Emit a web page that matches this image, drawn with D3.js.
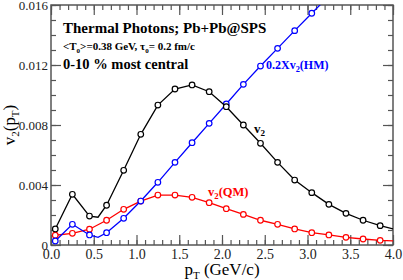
<!DOCTYPE html>
<html>
<head>
<meta charset="utf-8">
<script src="https://cdn.jsdelivr.net/npm/d3@7"></script>
<style>
  body { margin: 0; background: #fff; }
  svg text { font-family: "Liberation Serif", "Times New Roman", Times, "DejaVu Serif", serif; }
</style>
</head>
<body>
<div id="chart"></div>
<script>
// pT values of the computed points (GeV/c)
var ptBlack = [0.05, 0.25, 0.45, 0.55, 0.65, 0.85, 1.05, 1.25, 1.45, 1.65, 1.85, 2.05, 2.25, 2.45, 2.65, 2.85, 3.05, 3.25, 3.45, 3.65, 3.85, 4.0];
var v2 = [0.00107, 0.00338, 0.00193, 0.00185, 0.00265, 0.00498, 0.00738, 0.00933, 0.0104, 0.01067, 0.01022, 0.00922, 0.0080, 0.00678, 0.00551, 0.00433, 0.00349, 0.00271, 0.00211, 0.00165, 0.00129, 0.00107];
var markBlack = [1, 1, 1, 0, 1, 1, 1, 1, 1, 1, 1, 1, 1, 1, 1, 1, 1, 1, 1, 1, 1, 0];

var ptRed = [0.05, 0.25, 0.45, 0.65, 0.85, 1.05, 1.25, 1.45, 1.65, 1.85, 2.05, 2.25, 2.45, 2.65, 2.85, 3.05, 3.25, 3.45, 3.65, 3.85, 4.0];
var v2QM = [0.00065, 0.00078, 0.00105, 0.00165, 0.00238, 0.00293, 0.00333, 0.00333, 0.00318, 0.00282, 0.00242, 0.00204, 0.00165, 0.00138, 0.00107, 0.00082, 0.00067, 0.00051, 0.0004, 0.00031, 0.00027];
var markRed = [1, 1, 1, 1, 1, 1, 1, 1, 1, 1, 1, 1, 1, 1, 1, 1, 1, 1, 1, 1, 0];

var ptBlue = [0.05, 0.25, 0.45, 0.55, 0.65, 0.85, 1.05, 1.25, 1.45, 1.65, 1.85, 2.05, 2.25, 2.45, 2.65, 2.85, 3.05, 3.25];
var v2HM = [0.00027, 0.00138, 0.00067, 0.00051, 0.00082, 0.00178, 0.00293, 0.00418, 0.00551, 0.00682, 0.00811, 0.0094, 0.01071, 0.01193, 0.01311, 0.01429, 0.01545, 0.0166];
var markBlue = [1, 1, 1, 0, 1, 1, 1, 1, 1, 1, 1, 1, 1, 1, 1, 1, 1, 1];

var xTicks = [0, 0.5, 1.0, 1.5, 2.0, 2.5, 3.0, 3.5, 4.0];
var yTicks = [0, 0.004, 0.008, 0.012, 0.016];

var W = 403, H = 280;
var m = { left: 51, right: 10, top: 5, bottom: 35 };
var FONT = '"Liberation Serif", "Times New Roman", Times, serif';

var svg = d3.select('#chart').append('svg')
  .attr('width', W).attr('height', H)
  .attr('font-family', FONT);

var x = d3.scaleLinear().domain([0, 4]).range([m.left, W - m.right]);
var y = d3.scaleLinear().domain([0, 0.016]).range([H - m.bottom, m.top]);

svg.append('defs').append('clipPath').attr('id', 'clip')
  .append('rect')
  .attr('x', x(0)).attr('y', y(0.016))
  .attr('width', x(4) - x(0)).attr('height', y(0) - y(0.016));

// axes, ticks inside
var minorX = d3.range(0, 4.001, 0.1);
var minorY = d3.range(0, 0.01601, 0.001);

function drawAxis(g, axis) {
  g.call(axis);
  g.attr('font-family', FONT);
  g.select('.domain').remove();
  g.selectAll('line').attr('stroke', '#555').attr('stroke-width', 1.2);
}

var gx = svg.append('g').attr('transform', 'translate(0,' + y(0) + ')');
drawAxis(gx, d3.axisBottom(x).tickValues(minorX).tickSize(-5).tickFormat(''));
var gx2 = svg.append('g').attr('transform', 'translate(0,' + y(0) + ')');
drawAxis(gx2, d3.axisBottom(x).tickValues(xTicks).tickSize(-10).tickPadding(4).tickFormat(d3.format('.1f')));
gx2.selectAll('text').attr('font-size', 14).attr('fill', '#222');

var gt = svg.append('g').attr('transform', 'translate(0,' + y(0.016) + ')');
drawAxis(gt, d3.axisTop(x).tickValues(minorX).tickSize(-5).tickFormat(''));
var gt2 = svg.append('g').attr('transform', 'translate(0,' + y(0.016) + ')');
drawAxis(gt2, d3.axisTop(x).tickValues(xTicks).tickSize(-10).tickFormat(''));

var gy = svg.append('g').attr('transform', 'translate(' + x(0) + ',0)');
drawAxis(gy, d3.axisLeft(y).tickValues(minorY).tickSize(-5).tickFormat(''));
var gy2 = svg.append('g').attr('transform', 'translate(' + x(0) + ',0)');
drawAxis(gy2, d3.axisLeft(y).tickValues(yTicks).tickSize(-10).tickPadding(3)
  .tickFormat(function(d) { return d === 0 ? '0' : d3.format('.3f')(d); }));
gy2.selectAll('text').attr('font-size', 13).attr('fill', '#222');

var gr = svg.append('g').attr('transform', 'translate(' + x(4) + ',0)');
drawAxis(gr, d3.axisRight(y).tickValues(minorY).tickSize(-5).tickFormat(''));
var gr2 = svg.append('g').attr('transform', 'translate(' + x(4) + ',0)');
drawAxis(gr2, d3.axisRight(y).tickValues(yTicks).tickSize(-10).tickFormat(''));

svg.append('rect')
  .attr('x', x(0)).attr('y', y(0.016))
  .attr('width', x(4) - x(0)).attr('height', y(0) - y(0.016))
  .attr('fill', 'none').attr('stroke', '#555').attr('stroke-width', 1.5);

// series
var series = [
  { xs: ptRed, ys: v2QM, mk: markRed, color: '#ff0000' },
  { xs: ptBlue, ys: v2HM, mk: markBlue, color: '#0000ff' },
  { xs: ptBlack, ys: v2, mk: markBlack, color: '#000000' }
];

var line = d3.line().x(function(d) { return x(d[0]); }).y(function(d) { return y(d[1]); });
var plot = svg.append('g').attr('clip-path', 'url(#clip)');

series.forEach(function(s) {
  var pts = s.xs.map(function(v, i) { return [v, s.ys[i], s.mk[i]]; });
  plot.append('path')
    .datum(pts)
    .attr('d', line)
    .attr('fill', 'none')
    .attr('stroke', s.color)
    .attr('stroke-width', 1.3);
  plot.selectAll(null)
    .data(pts.filter(function(d) { return d[2]; }))
    .enter()
    .append('circle')
    .attr('cx', function(d) { return x(d[0]); })
    .attr('cy', function(d) { return y(d[1]); })
    .attr('r', 2.8)
    .attr('fill', '#fff')
    .attr('stroke', s.color)
    .attr('stroke-width', 1.2);
});

// annotations
svg.append('text').attr('x', 63).attr('y', 33)
  .attr('font-size', 15).attr('font-weight', 'bold')
  .text('Thermal Photons; Pb+Pb@SPS');

var t2 = svg.append('text').attr('x', 63).attr('y', 50)
  .attr('font-size', 11).attr('font-weight', 'bold');
t2.append('tspan').text('<T');
t2.append('tspan').attr('font-size', 7).attr('dy', 3).text('0');
t2.append('tspan').attr('dy', -3).text('>=0.38 GeV, \u03c4');
t2.append('tspan').attr('font-size', 7).attr('dy', 3).text('0');
t2.append('tspan').attr('dy', -3).text('= 0.2 fm/c');

svg.append('text').attr('x', 63).attr('y', 69)
  .attr('font-size', 14.5).attr('font-weight', 'bold')
  .text('0-10 % most central');

function sublabel(xp, yp, a, sub, b, color, size) {
  var t = svg.append('text').attr('x', xp).attr('y', yp)
    .attr('font-size', size).attr('font-weight', 'bold').attr('fill', color);
  t.append('tspan').text(a);
  t.append('tspan').attr('font-size', size * 0.7).attr('dy', 3).text(sub);
  t.append('tspan').attr('dy', -3).text(b);
}

sublabel(266, 69, '0.2Xv', '2', '(HM)', '#0000ff', 12);
sublabel(254, 133, 'v', '2', '', '#000', 13);
sublabel(208, 196, 'v', '2', '(QM)', '#ff0000', 12.5);

// axis titles
var xt = svg.append('text').attr('x', 222).attr('y', 275)
  .attr('text-anchor', 'middle').attr('font-size', 17);
xt.append('tspan').text('p');
xt.append('tspan').attr('font-size', 11).attr('dy', 4).text('T');
xt.append('tspan').attr('dy', -4).text('  (GeV/c)');

var yt = svg.append('text')
  .attr('transform', 'translate(15,' + 125 + ') rotate(-90)')
  .attr('text-anchor', 'middle').attr('font-size', 17);
yt.append('tspan').text('v');
yt.append('tspan').attr('font-size', 11).attr('dy', 4).text('2');
yt.append('tspan').attr('dy', -4).text('(p');
yt.append('tspan').attr('font-size', 11).attr('dy', 4).text('T');
yt.append('tspan').attr('dy', -4).text(')');
</script>
</body>
</html>
